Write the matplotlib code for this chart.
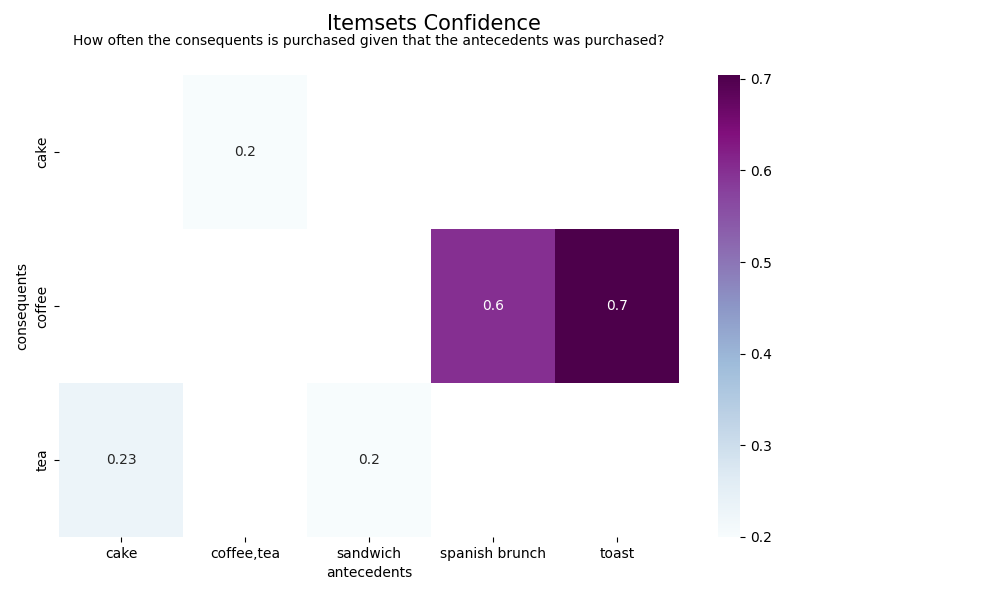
import numpy as np
import pandas as pd
import matplotlib
matplotlib.use("Agg")
import matplotlib.pyplot as plt
import seaborn as sns

antecedents = ['cake', 'coffee,tea', 'sandwich', 'spanish brunch', 'toast']
consequents = ['cake', 'coffee', 'tea']
confidence = [
    [np.nan, 0.2, np.nan, np.nan, np.nan],
    [np.nan, np.nan, np.nan, 0.6, 0.704],
    [0.23, np.nan, 0.2, np.nan, np.nan],
]

df = pd.DataFrame(confidence, index=consequents, columns=antecedents)
df.index.name = 'consequents'
df.columns.name = 'antecedents'

fig = plt.figure(figsize=(9.92, 6.06), dpi=100)
ax = fig.add_axes([0.0595, 0.1139, 0.625, 0.7622])
cax = fig.add_axes([0.724, 0.1139, 0.022, 0.7622])
sns.heatmap(df, annot=True, cmap='BuPu', ax=ax, cbar_ax=cax)
fig.text(434/992, 1 - 24/606, 'Itemsets Confidence', ha='center', va='center', fontsize=15)
ax.set_title('How often the consequents is purchased given that the antecedents was purchased?',
             fontsize=10, pad=22)
fig.savefig('out.png', dpi=100)
